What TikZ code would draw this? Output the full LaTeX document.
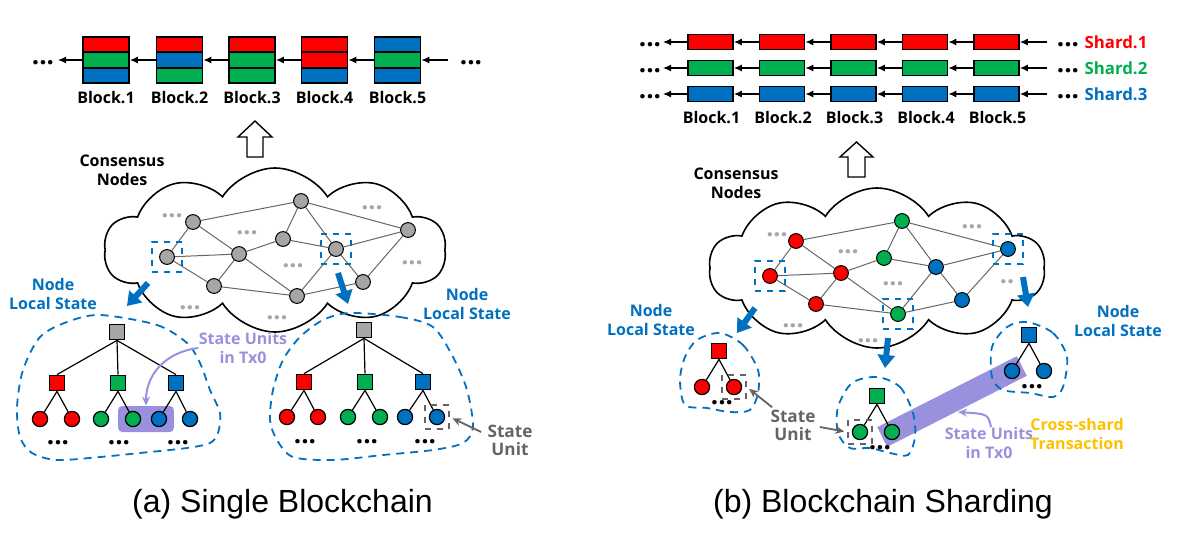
\documentclass[tikz,border=0pt]{standalone}
\usepackage{fontspec}
\setmainfont{Liberation Sans}
\newfontfamily\lblfont{Open Sans}
\usetikzlibrary{shapes.symbols,arrows.meta,calc,backgrounds,fit}

\definecolor{cRed}{RGB}{255,0,0}
\definecolor{cGreen}{RGB}{0,176,80}
\definecolor{cBlue}{RGB}{0,112,192}
\definecolor{cGray}{RGB}{166,166,166}
\definecolor{cPurple}{RGB}{153,145,222}
\definecolor{cGold}{RGB}{255,192,0}
\definecolor{cDark}{RGB}{100,100,100}

\tikzset{
  lbl/.style={font=\lblfont\bfseries\fontsize{8}{9.3}\selectfont, align=center, inner sep=0pt},
  stripe/.style={draw, line width=0.9pt, minimum width=23pt, minimum height=7.65pt, inner sep=0pt},
  shardblk/.style={draw, line width=0.9pt, minimum width=22.5pt, minimum height=7.5pt, inner sep=0pt},
  linkarr/.style={-{Latex[length=4pt,width=3.5pt]}, line width=0.6pt},
  netnode/.style={circle, draw, line width=0.5pt, minimum size=7.4pt, inner sep=0pt},
  netedge/.style={draw=black!60, line width=0.5pt},
  leaf/.style={circle, draw, line width=0.6pt, minimum size=7.6pt, inner sep=0pt},
  sq/.style={rectangle, draw, line width=0.6pt, minimum size=7.8pt, inner sep=0pt},
  treeedge/.style={line width=0.6pt},
  selbox/.style={draw=cBlue, dashed, line width=0.8pt, minimum size=15pt, inner sep=0pt},
  unitbox/.style={draw=cDark, dashed, line width=0.8pt, minimum size=12pt, inner sep=0pt},
  blob/.style={draw=cBlue, line width=0.9pt, dash pattern=on 4pt off 3pt},
  fatarrow/.style={draw=cBlue, line width=3pt, -{Triangle[length=6.5pt,width=8.5pt]}},
  hollow/.style={draw, line width=0.7pt, fill=white},
  grayarrow/.style={draw=cDark, line width=0.9pt, -{Stealth[length=4.5pt,width=4pt]}, shorten >=1.5pt},
  txarrow/.style={draw=cPurple, line width=1pt, -{Stealth[length=4.5pt,width=4pt]}},
  txfill/.style={fill=cPurple, rounded corners=2pt, inner xsep=3.3pt, inner ysep=2.4pt},
  txbar/.style={draw=cPurple, line width=11pt},
  netdots/.style={text=cGray, font=\lblfont\bfseries\fontsize{12.5}{12}\selectfont, inner sep=0pt},
  leafdots/.style={font=\lblfont\bfseries\fontsize{13}{13}\selectfont, inner sep=0pt},
  subcap/.style={font=\fontsize{16}{18}\selectfont, inner sep=0pt},
  consensus/.style={cloud, draw, line width=0.8pt, cloud puffs=10, cloud puff arc=115, cloud ignores aspect, inner sep=0pt}
}

\begin{document}
\begin{tikzpicture}[x=0.5pt,y=-0.5pt]
\useasboundingbox (0,0) rectangle (1191,541);

% ---------- (a) single chain
\foreach \x/\ca/\cb/\cc [count=\i] in {106/cRed/cGreen/cBlue, 179.5/cRed/cBlue/cGreen, 252/cRed/cGreen/cGreen, 324.5/cRed/cRed/cBlue, 397.5/cBlue/cGreen/cBlue}
{
    \node[stripe, fill=\ca] (L\i a) at (\x,44.7) {};
    \node[stripe, fill=\cb] (L\i b) at (\x,60) {};
    \node[stripe, fill=\cc] (L\i c) at (\x,75.3) {};
    \node[lbl] (blkA\i) at (\x,98) {Block.\i};
}
\foreach \i in {2,...,5}
{
    \pgfmathtruncatemacro\j{\i-1}
    \draw[linkarr] (L\i b.west) -- (L\j b.east);
}
\coordinate (Lout) at (58,60);
\coordinate (Lin) at (448,60);
\draw[linkarr] (L1b.west) -- (Lout);
\draw[linkarr] (Lin) -- (L5b.east);
\node[leafdots] (dotsL1) at (43,63) {...};
\node[leafdots] (dotsL2) at (471,63) {...};

% ---------- (b) three shards
\foreach \y/\c/\r in {42/cRed/1, 68/cGreen/2, 94/cBlue/3}
{
    \foreach \i in {1,...,5}
        \node[shardblk, fill=\c] (S\r\i) at ({710.5+71.5*(\i-1)},\y) {};
    \foreach \i in {2,...,5}
    {
        \pgfmathtruncatemacro\j{\i-1}
        \draw[linkarr] (S\r\i.west) -- (S\r\j.east);
    }
    \coordinate (Sout\r) at (663,\y);
    \coordinate (Sin\r) at (1047,\y);
    \draw[linkarr] (S\r1.west) -- (Sout\r);
    \draw[linkarr] (Sin\r) -- (S\r5.east);
    \node[leafdots] (dotsS\r a) at (650,{\y+3}) {...};
    \node[leafdots] (dotsS\r b) at (1068,{\y+3}) {...};
    \node[lbl, text=\c, font=\lblfont\bfseries\fontsize{8.4}{9}\selectfont] (shard\r) at (1116,\y) {Shard.\r};
}
\foreach \i in {1,...,5}
    \node[lbl] (blkB\i) at ({711.5+71.5*(\i-1)},118) {Block.\i};

% hollow arrows up
\draw[hollow] (247,157) -- (247,137) -- (238,137) -- (255,121) -- (272,137) -- (263,137) -- (263,157) -- cycle;
\draw[hollow] (848,177) -- (848,157) -- (840,157) -- (856.5,142) -- (873,157) -- (865,157) -- (865,177) -- cycle;

% ---------- clouds
\node[consensus, minimum width=171pt, minimum height=82pt] (cloudA) at (275,250) {};
\node[consensus, minimum width=168pt, minimum height=80pt] (cloudB) at (877,268) {};
\node[lbl] (consA) at (122,170) {Consensus\\Nodes};
\node[lbl] (consB) at (736,183) {Consensus\\Nodes};

\foreach \n/\x/\y in {1/193/222, 2/301/201, 3/408/230, 4/167/257, 5/239/254, 6/283/239, 7/336/249, 8/214/286, 9/297/296, 10/363/282}
    \node[netnode, fill=cGray] (A\n) at (\x,\y) {};
\foreach \n/\x/\y/\c in {1/796/241/cRed, 2/902/221/cGreen, 3/1008/249/cBlue, 4/770/276/cRed, 5/841/273/cRed, 6/884/258/cGreen, 7/936/267/cBlue, 8/816/304/cRed, 9/898/314/cGreen, 10/962/300/cBlue}
    \node[netnode, fill=\c] (B\n) at (\x,\y) {};
\begin{scope}[on background layer]
    \foreach \a/\b in {1/2, 2/3, 1/4, 1/5, 4/5, 4/8, 5/6, 5/8, 5/9, 8/9, 2/6, 2/7, 6/7, 7/3, 7/9, 9/10, 3/10, 7/10}
    {
        \draw[netedge] (A\a) -- (A\b);
        \draw[netedge] (B\a) -- (B\b);
    }
\end{scope}
\foreach \x/\y in {172/216, 247/233, 293/266, 372/208, 412/263, 190/308, 277/318, 777/235, 848/252, 893/284, 972/227, 793/326, 868/341}
    \node[netdots] at (\x,\y) {...};
\node[netdots] at (1007,282) {..};

\node[selbox] (boxA4) at (A4) {};
\node[selbox] (boxA7) at (A7) {};
\node[selbox] (boxB4) at (B4) {};
\node[selbox] (boxB3) at (B3) {};
\node[selbox] (boxB9) at (B9) {};

% fat arrows to local states
\coordinate (fa1) at (148,283);  \coordinate (fa1e) at (127,306);
\coordinate (fa2) at (338,273);  \coordinate (fa2e) at (348,304);
\coordinate (fb1) at (755,308);  \coordinate (fb1e) at (737,333);
\coordinate (fb2) at (888,338);  \coordinate (fb2e) at (885,368);
\coordinate (fb3) at (1023,277); \coordinate (fb3e) at (1028,307);
\foreach \s in {fa1,fa2,fb1,fb2,fb3}
    \draw[fatarrow] (\s) -- (\s e);

\node[lbl, text=cBlue] (nlsA1) at (53,294) {Node\\Local State};
\node[lbl, text=cBlue] (nlsA2) at (467,304) {Node\\Local State};
\node[lbl, text=cBlue] (nlsB1) at (651,320) {Node\\Local State};
\node[lbl, text=cBlue] (nlsB2) at (1118,321) {Node\\Local State};

% ---------- (a) local state trees
\draw[blob] plot[smooth cycle] coordinates {(100,315) (157,325) (187,343) (200,363) (210,390) (220,413) (218,433) (210,443) (187,448) (140,453) (100,457) (57,460) (32,453) (20,437) (17,407) (23,370) (40,337) (67,322)};
\draw[blob] plot[smooth cycle] coordinates {(350,313) (400,317) (433,327) (453,357) (467,390) (473,427) (463,443) (433,450) (383,455) (333,460) (293,457) (277,440) (270,420) (273,390) (283,360) (300,337) (323,320)};

\node[sq, fill=cGray] (TA0) at (117,332) {};
\node[sq, fill=cGray] (TB0) at (364,330) {};
\foreach \n/\x/\c in {1/57/cRed, 2/118/cGreen, 3/176/cBlue}
{
    \node[sq, fill=\c] (TA\n) at (\x,383) {};
    \draw[treeedge] (TA0.south) -- (TA\n.north);
}
\foreach \n/\x/\c in {1/304/cRed, 2/365/cGreen, 3/423/cBlue}
{
    \node[sq, fill=\c] (TB\n) at (\x,382) {};
    \draw[treeedge] (TB0.south) -- (TB\n.north);
}
\foreach \n/\p/\x/\c in {1/1/40/cRed, 2/1/72/cRed, 3/2/101/cGreen, 4/2/133/cGreen, 5/3/159/cBlue, 6/3/190/cBlue}
{
    \node[leaf, fill=\c] (LA\n) at (\x,419) {};
    \draw[treeedge] (TA\p.south) -- (LA\n);
}
\foreach \n/\p/\x/\c in {1/1/287/cRed, 2/1/318/cRed, 3/2/348/cGreen, 4/2/380/cGreen, 5/3/405/cBlue, 6/3/437/cBlue}
{
    \node[leaf, fill=\c] (LB\n) at (\x,417) {};
    \draw[treeedge] (TB\p.south) -- (LB\n);
}
\foreach \x in {58,119,178}
    \node[leafdots] at (\x,443) {...};
\foreach \x in {305,367,425}
    \node[leafdots] at (\x,442) {...};

\begin{scope}[on background layer]
    \node[txfill, fit=(LA4)(LA5)] (TxA) {};
\end{scope}
\node[lbl, text=cPurple] (unitsA) at (243,348) {State Units\\in Tx0};
\draw[txarrow] (unitsA.west) .. controls (165,352) and (146,375) .. (TxA.north);

\node[unitbox] (uA) at (LB6) {};
\node[lbl, text=cDark, font=\lblfont\bfseries\fontsize{8.6}{9}\selectfont] (suA) at (510,440) {State\\Unit};
\draw[grayarrow] ($(suA.west)+(-6,-8)$) -- (uA.east);

% ---------- (b) local state trees
\draw[blob] plot[smooth cycle] coordinates {(720,333) (743,345) (758,370) (758,393) (750,410) (730,412) (707,408) (685,405) (680,380) (685,357) (697,340)};
\draw[blob] plot[smooth cycle] coordinates {(877,377) (900,387) (913,413) (915,437) (908,455) (890,453) (870,448) (850,448) (838,433) (838,407) (852,383)};
\draw[blob] plot[smooth cycle] coordinates {(1027,322) (1053,333) (1067,357) (1063,387) (1053,397) (1030,393) (1003,390) (992,377) (992,347) (1007,327)};

\foreach \t/\x/\y/\c in {C/719/351/cRed, D/877/396/cGreen, E/1029/335/cBlue}
{
    \node[sq, fill=\c] (T\t0) at (\x,\y) {};
    \node[leaf, fill=\c] (L\t1) at ({\x-17},{\y+36}) {};
    \node[leaf, fill=\c] (L\t2) at ({\x+15},{\y+36}) {};
    \draw[treeedge] (T\t0.south) -- (L\t1);
    \draw[treeedge] (T\t0.south) -- (L\t2);
    \node[leafdots] at ({\x+3},{\y+52}) {...};
}

\begin{scope}[on background layer]
    \draw[txbar] ($(LD2)!-5.5pt!(LE1)$) -- ($(LE1)!-5.5pt!(LD2)$);
\end{scope}
\node[lbl, text=cPurple] (unitsB) at (989,443) {State Units\\in Tx0};
\draw[txarrow] ([xshift=1pt]unitsB.north) .. controls (988,414) .. (958,412);
\node[lbl, text=cGold] (crossB) at (1077,434) {Cross-shard\\Transaction};

\node[unitbox] (uC) at (LC2) {};
\node[unitbox] (uD) at (LD1) {};
\node[lbl, text=cDark, font=\lblfont\bfseries\fontsize{8.6}{9}\selectfont] (suB) at (793,425) {State\\Unit};
\draw[grayarrow] ($(suB.north west)+(2,-2)$) -- (uC.east);
\draw[grayarrow] ($(suB.east)+(4,2)$) -- (uD.west);

% ---------- captions
\node[subcap] (capA) at (282.5,504) {(a) Single Blockchain};
\node[subcap] (capB) at (883,504) {(b) Blockchain Sharding};
\end{tikzpicture}
\end{document}
